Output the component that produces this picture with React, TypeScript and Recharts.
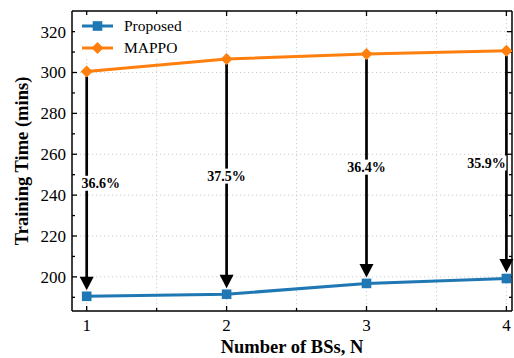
import React from "react";
import {
  LineChart,
  Line,
  XAxis,
  YAxis,
  CartesianGrid,
  Legend,
  ReferenceLine,
  ReferenceDot,
} from "recharts";

const bsCounts = [1, 2, 3, 4];
const proposedTime = [190.5, 191.5, 196.8, 199.2];
const mappoTime = [300.5, 306.6, 309.0, 310.6];
const gainLabels = ["36.6%", "37.5%", "36.4%", "35.9%"];
const gainLabelX = [1.1, 2.0, 3.0, 3.857];
const gainLabelY = [245.8, 249.3, 253.7, 255.7];

const xTicks = [1, 2, 3, 4];
const xMinorTicks = [1.5, 2.5, 3.5];
const yTicks = [200, 220, 240, 260, 280, 300, 320];
const yMinorTicks = [190, 210, 230, 250, 270, 290, 310];
const xGrid = [1, 1.5, 2, 2.5, 3, 3.5, 4];
const yGrid = [190, 200, 210, 220, 230, 240, 250, 260, 270, 280, 290, 300, 310, 320];
const legendOrder = ["proposed", "mappo"];

const X_DOMAIN: [number, number] = [0.895, 4.04];
const Y_DOMAIN: [number, number] = [183.3, 330.1];

const BLUE = "#1f77b4";
const ORANGE = "#ff7f0e";
const FONT = "'Liberation Serif', 'Times New Roman', serif";

const data = bsCounts.map((n, i) => ({
  n,
  proposed: proposedTime[i],
  mappo: mappoTime[i],
}));

const SquareDot = (p: any) => (
  <rect key={`sq-${p.index}`} x={p.cx - 4.8} y={p.cy - 4.8} width={9.6} height={9.6} fill={BLUE} />
);

const DiamondDot = (p: any) => (
  <polygon
    key={`dm-${p.index}`}
    points={`${p.cx},${p.cy - 6} ${p.cx + 6},${p.cy} ${p.cx},${p.cy + 6} ${p.cx - 6},${p.cy}`}
    fill={ORANGE}
  />
);

// vertical arrow from the MAPPO point down to the proposed marker
const Arrow = (p: any) => {
  const x = p.x1;
  const top = p.y1 + 5;
  const tip = p.y2 - 6;
  const base = tip - 13.5;
  return (
    <g>
      <line x1={x} y1={top} x2={x} y2={base + 1} stroke="#000" strokeWidth={2.7} />
      <polygon points={`${x - 7},${base} ${x + 7},${base} ${x},${tip}`} fill="#000" />
    </g>
  );
};

// inward tick marks at both ends of a full-height / full-width reference line
const vTicks = (len: number) => (p: any) => {
  const a = Math.min(p.y1, p.y2);
  const b = Math.max(p.y1, p.y2);
  return (
    <g stroke="#000" strokeWidth={1.3}>
      <line x1={p.x1} y1={a} x2={p.x1} y2={a + len} />
      <line x1={p.x1} y1={b - len} x2={p.x1} y2={b} />
    </g>
  );
};
const hTicks = (len: number) => (p: any) => {
  const a = Math.min(p.x1, p.x2);
  const b = Math.max(p.x1, p.x2);
  return (
    <g stroke="#000" strokeWidth={1.3}>
      <line x1={a} y1={p.y1} x2={a + len} y2={p.y1} />
      <line x1={b - len} y1={p.y1} x2={b} y2={p.y1} />
    </g>
  );
};

const gainTag = (text: string) => (p: any) => (
  <g>
    <rect x={p.cx - 20} y={p.cy - 7.5} width={40} height={15} fill="#fff" />
    <text
      x={p.cx}
      y={p.cy}
      dy="0.35em"
      textAnchor="middle"
      fontFamily={FONT}
      fontWeight="bold"
      fontSize={14}
      fill="#000"
    >
      {text}
    </text>
  </g>
);

const XTick = (p: any) => (
  <text x={p.x} y={p.y + 8} dy="0.71em" textAnchor="middle" fontFamily={FONT} fontSize={17} fill="#000">
    {p.payload.value}
  </text>
);

const YTick = (p: any) => (
  <text x={p.x - 6} y={p.y} dy="0.35em" textAnchor="end" fontFamily={FONT} fontSize={17} fill="#000">
    {p.payload.value}
  </text>
);

const renderLegend = (props: any) => {
  const items = [...(props.payload || [])].sort(
    (a: any, b: any) => legendOrder.indexOf(a.dataKey) - legendOrder.indexOf(b.dataKey)
  );
  return (
    <div
      style={{
        background: "#fff",
        padding: "0 6px 0 7px",
        fontFamily: FONT,
        fontSize: 15.5,
        color: "#000",
      }}
    >
      {items.map((it: any) => (
        <div key={it.value} style={{ display: "flex", alignItems: "center", height: 21.7 }}>
          <svg width={31} height={20}>
            <line x1={0} y1={10} x2={31} y2={10} stroke={it.color} strokeWidth={3} />
            {it.dataKey === "proposed" ? (
              <rect x={10.7} y={5.2} width={9.6} height={9.6} fill={it.color} />
            ) : (
              <polygon points="15.5,4 21.5,10 15.5,16 9.5,10" fill={it.color} />
            )}
          </svg>
          <span style={{ marginLeft: 11, lineHeight: "20px", whiteSpace: "nowrap" }}>{it.value}</span>
        </div>
      ))}
    </div>
  );
};

const spine = { stroke: "#000", strokeWidth: 1.5 };

export default function App() {
  return (
    <div style={{ position: "absolute", left: 0, top: 0, background: "#fff" }}>
      <LineChart
        width={514}
        height={358}
        data={data}
        margin={{ top: 11, right: 2, bottom: 0, left: 0 }}
      >
        <CartesianGrid
          stroke="#cdcdcd"
          strokeDasharray="1.2 2.8"
          horizontalValues={yGrid}
          verticalValues={xGrid}
        />
        <XAxis
          dataKey="n"
          type="number"
          domain={X_DOMAIN}
          ticks={xTicks}
          allowDataOverflow
          tickLine={false}
          tickSize={0}
          tickMargin={0}
          axisLine={spine}
          tick={XTick}
          height={47}
          label={({ viewBox }: any) => (
            <text
              x={viewBox.x + viewBox.width / 2}
              y={viewBox.y + viewBox.height - 5}
              textAnchor="middle"
              fontFamily={FONT}
              fontWeight="bold"
              fontSize={18.5}
              fill="#000"
            >
              Number of BSs, N
            </text>
          )}
        />
        <YAxis
          type="number"
          domain={Y_DOMAIN}
          ticks={yTicks}
          allowDataOverflow
          tickLine={false}
          tickSize={0}
          tickMargin={0}
          axisLine={spine}
          tick={YTick}
          width={72}
          label={({ viewBox }: any) => {
            const cx = viewBox.x + 22;
            const cy = viewBox.y + viewBox.height / 2;
            return (
              <text
                x={cx}
                y={cy}
                dy="0.33em"
                transform={`rotate(-90, ${cx}, ${cy})`}
                textAnchor="middle"
                fontFamily={FONT}
                fontWeight="bold"
                fontSize={18.5}
                fill="#000"
              >
                Training Time (mins)
              </text>
            );
          }}
        />

        {/* top and right spines */}
        <ReferenceLine y={Y_DOMAIN[1]} stroke="#000" strokeWidth={1.5} ifOverflow="visible" />
        <ReferenceLine x={X_DOMAIN[1]} stroke="#000" strokeWidth={1.5} ifOverflow="visible" />

        {/* inward tick marks on all four sides */}
        {xTicks.map((v) => (
          <ReferenceLine key={`xt-${v}`} x={v} shape={vTicks(5)} ifOverflow="visible" />
        ))}
        {xMinorTicks.map((v) => (
          <ReferenceLine key={`xm-${v}`} x={v} shape={vTicks(3)} ifOverflow="visible" />
        ))}
        {yTicks.map((v) => (
          <ReferenceLine key={`yt-${v}`} y={v} shape={hTicks(5)} ifOverflow="visible" />
        ))}
        {yMinorTicks.map((v) => (
          <ReferenceLine key={`ym-${v}`} y={v} shape={hTicks(3)} ifOverflow="visible" />
        ))}

        <Legend
          verticalAlign="middle"
          align="center"
          layout="horizontal"
          content={renderLegend}
          wrapperStyle={{ top: 15, left: 75, width: "auto", height: "auto" }}
        />

        {bsCounts.map((n, i) => (
          <ReferenceLine
            key={`arrow-${n}`}
            segment={[
              { x: n, y: mappoTime[i] },
              { x: n, y: proposedTime[i] },
            ]}
            shape={Arrow}
            ifOverflow="visible"
          />
        ))}

        <Line
          dataKey="proposed"
          name="Proposed"
          stroke={BLUE}
          strokeWidth={3}
          dot={SquareDot}
          activeDot={false}
          isAnimationActive={false}
        />
        <Line
          dataKey="mappo"
          name="MAPPO"
          stroke={ORANGE}
          strokeWidth={3}
          dot={DiamondDot}
          activeDot={false}
          isAnimationActive={false}
        />

        {gainLabels.map((t, i) => (
          <ReferenceDot
            key={`gain-${i}`}
            x={gainLabelX[i]}
            y={gainLabelY[i]}
            r={0}
            shape={gainTag(t)}
            ifOverflow="visible"
          />
        ))}
      </LineChart>
    </div>
  );
}
